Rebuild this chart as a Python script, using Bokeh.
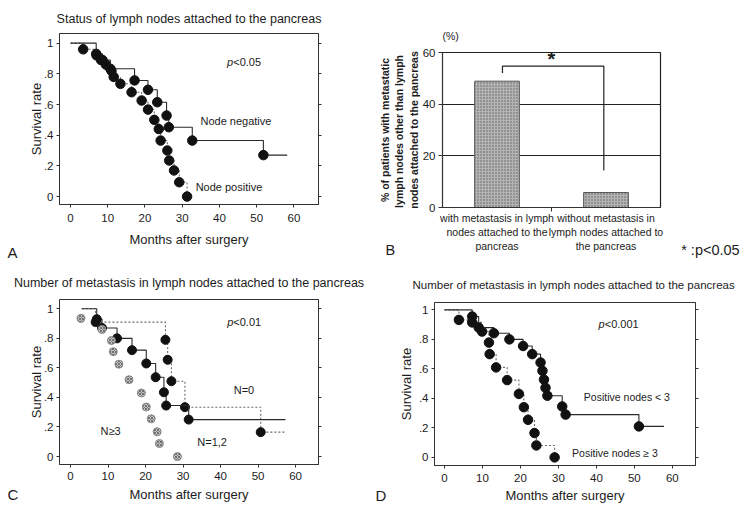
from bokeh.plotting import figure
from bokeh.layouts import row, column
from bokeh.models import (Label, Title, FixedTicker, Range1d, CustomJSTickFormatter,
                          LinearAxis)
from bokeh.embed import file_html
from bokeh.resources import INLINE

FONT = "Liberation Sans"
INK = "#1c1c1c"
LINE = "#2a2a2a"
DOT = "#6a6a6a"
NBSP = "\u00a0"

# ---------------- data ----------------
month_ticks = [0, 10, 20, 30, 40, 50, 60]
surv_ticks = [0, 0.2, 0.4, 0.6, 0.8, 1.0]

# Panel A: status of lymph nodes attached to the pancreas
a_neg_t = [6.9, 8.6, 10.7, 17.2, 20.8, 23.3, 25.8, 26.4, 32.7, 51.8]
a_neg_s = [0.93, 0.89, 0.833, 0.757, 0.696, 0.615, 0.528, 0.452, 0.365, 0.27]
a_neg_end = 58.2
a_pos_t = [3.4, 7.0, 8.2, 9.5, 11.0, 11.6, 13.4, 16.4, 19.1, 20.8, 22.5, 23.7,
           24.2, 26.0, 26.5, 27.8, 29.2, 31.3]
a_pos_s = [0.96, 0.92, 0.89, 0.86, 0.82, 0.78, 0.735, 0.68, 0.626, 0.567, 0.50,
           0.44, 0.365, 0.30, 0.235, 0.17, 0.093, 0.0]

# Panel B: % of patients with metastatic lymph nodes other than those attached
b_groups = ["with metastasis in lymph\nnodes attached to the\npancreas",
            "without metastasis in\nlymph nodes attached to\nthe pancreas"]
b_pct = [48.9, 5.8]
b_ticks = [0, 20, 40, 60]
b_grid = [20, 40]

# Panel C: number of metastases (N=0, N=1,2, N>=3)
c_start = 3.0
c_n0_t = [6.7, 25.3, 25.9, 26.9, 30.5, 50.7]
c_n0_s = [0.91, 0.79, 0.655, 0.51, 0.334, 0.165]
c_n0_end = 57.0
c_n12_t = [7.0, 8.4, 12.4, 16.4, 20.2, 22.7, 24.9, 25.5, 31.5]
c_n12_s = [0.93, 0.87, 0.80, 0.72, 0.63, 0.537, 0.435, 0.345, 0.25]
c_n12_end = 57.3
c_n3_t = [2.8, 8.4, 10.9, 11.4, 12.9, 15.6, 18.9, 20.2, 21.5, 23.1, 23.7, 28.5]
c_n3_s = [0.935, 0.86, 0.785, 0.71, 0.625, 0.52, 0.43, 0.335, 0.255, 0.168, 0.088, 0.0]

# Panel D: positive nodes < 3 vs >= 3
d_lt3_t = [7.3, 9.0, 13.0, 17.1, 20.7, 23.1, 25.3, 25.8, 26.2, 26.6, 27.1, 31.0, 31.9, 51.2]
d_lt3_s = [0.955, 0.88, 0.842, 0.80, 0.755, 0.70, 0.643, 0.587, 0.527, 0.472, 0.418,
           0.345, 0.29, 0.21]
d_lt3_end = 57.8
d_ge3_t = [3.8, 7.3, 9.9, 11.7, 11.9, 13.6, 16.5, 19.6, 20.9, 22.0, 23.7, 24.2, 29.0]
d_ge3_s = [0.932, 0.915, 0.853, 0.778, 0.70, 0.61, 0.524, 0.43, 0.34, 0.255, 0.165,
           0.081, 0.0]


# ---------------- helpers ----------------
def km_xy(t, s, start=0.0, end=None):
    xs = [start] + list(t)
    ys = [1.0] + list(s)
    if end is not None:
        xs.append(end)
        ys.append(s[-1])
    return xs, ys


def lab(p, x, y, text, size="11px", align="left", baseline="middle",
        style="normal", font=FONT, color=INK):
    p.add_layout(Label(x=x, y=y, text=text, text_font=font, text_font_size=size,
                       text_font_style=style, text_align=align,
                       text_baseline=baseline, text_color=color))


def side_text(p, text, side, align="left", offset=0, standoff=0, size="15px",
              font=FONT, valign="bottom", style="normal"):
    t = Title(text=text, align=align, offset=offset, vertical_align=valign,
              text_font=font, text_font_size=size, text_font_style=style,
              text_color=INK)
    try:
        t.standoff = standoff
    except Exception:
        t.standoff = 0
    p.add_layout(t, side)


def no_align(p):
    try:
        p.frame_align = False
    except Exception:
        pass


def set_label_standoff(ax, v):
    try:
        ax.axis_label_standoff = v
    except Exception:
        ax.axis_label_standoff = 0


def style_axis(ax, label_size="11.5px"):
    ax.axis_line_color = "#333333"
    ax.axis_line_width = 1
    ax.major_tick_line_color = "#333333"
    ax.major_tick_in = 0
    ax.major_tick_out = 3
    ax.minor_tick_line_color = None
    ax.major_label_text_font = FONT
    ax.major_label_text_font_size = label_size
    ax.major_label_text_color = INK
    ax.axis_label_text_font = FONT
    ax.axis_label_text_font_style = "normal"
    ax.axis_label_text_color = INK


def km_figure(width, height, borders, xr, yr, x_standoff, xlab_standoff, ylab_standoff):
    l, r, t, b = borders
    p = figure(width=width, height=height, x_range=Range1d(*xr), y_range=Range1d(*yr),
               output_backend="svg", toolbar_location=None,
               min_border_left=l, min_border_right=r, min_border_top=t,
               min_border_bottom=b)
    no_align(p)
    p.xgrid.visible = False
    p.ygrid.visible = False
    p.outline_line_color = "#333333"
    p.outline_line_alpha = 1
    p.outline_line_width = 1
    p.background_fill_color = "white"
    p.border_fill_color = "white"
    p.xaxis.ticker = FixedTicker(ticks=month_ticks)
    p.yaxis.ticker = FixedTicker(ticks=surv_ticks)
    p.yaxis.formatter = CustomJSTickFormatter(
        code="return tick <= 0 ? '0' : (tick >= 1 ? '1' : tick.toFixed(1).slice(1));")
    for ax in p.axis:
        style_axis(ax)
    p.xaxis.axis_label = "Months after surgery"
    p.yaxis.axis_label = "Survival rate"
    p.xaxis.axis_label_text_font_size = "13px"
    p.yaxis.axis_label_text_font_size = "13px"
    p.xaxis.major_label_standoff = x_standoff
    p.xaxis.axis_label_standoff = xlab_standoff
    p.yaxis.major_label_standoff = 3
    for ax in p.yaxis:
        set_label_standoff(ax, ylab_standoff)
    # small tick marks on the right edge of the box
    rax = LinearAxis(ticker=FixedTicker(ticks=surv_ticks),
                     formatter=CustomJSTickFormatter(code="return '';"))
    style_axis(rax)
    rax.major_label_standoff = 0
    p.add_layout(rax, "right")
    return p


def solid_curve(p, t, s, start=0.0, end=None, size=9.5):
    xs, ys = km_xy(t, s, start, end)
    p.step(xs, ys, mode="after", line_color=LINE, line_width=1.1)
    p.scatter(t, s, size=size, fill_color="#111111", line_color="#111111")


def dotted_curve(p, t, s, start=0.0, end=None, size=9.5):
    xs, ys = km_xy(t, s, start, end)
    p.step(xs, ys, mode="after", line_color=DOT, line_width=1.1, line_dash="2 2")
    p.scatter(t, s, size=size, fill_color="#111111", line_color="#111111")


# ---------------- Panel A ----------------
pA = km_figure(371, 263, (59, 53, 33, 59), (-2.96, 66.6), (-0.052, 1.063), 6, 7, -3)
side_text(pA, "Status of lymph nodes attached to the pancreas", "above",
          align="center", standoff=16, size="12.5px")
dotted_curve(pA, a_pos_t, a_pos_s)
solid_curve(pA, a_neg_t, a_neg_s, end=a_neg_end)
lab(pA, 43.7, 0.876, "p", align="right", style="italic")
lab(pA, 43.7, 0.876, "<0.05")
lab(pA, 34.9, 0.49, "Node negative")
lab(pA, 33.6, 0.061, "Node positive")
side_text(pA, "A", "below", offset=-52, standoff=-13, valign="middle")

# ---------------- Panel B ----------------
pB = figure(width=372, height=263, x_range=Range1d(0, 2), y_range=Range1d(0, 60),
            output_backend="svg", toolbar_location=None,
            min_border_left=71, min_border_right=83, min_border_top=52,
            min_border_bottom=56)
no_align(pB)
pB.background_fill_color = "white"
pB.border_fill_color = "white"
pB.outline_line_color = "#222222"
pB.outline_line_alpha = 1
pB.outline_line_width = 1.2
pB.xgrid.visible = False
pB.ygrid.ticker = FixedTicker(ticks=b_grid)
pB.ygrid.grid_line_color = "#222222"
pB.ygrid.grid_line_width = 1.1
pB.vbar(x=[0.5, 1.5], top=b_pct, width=0.41, fill_color="#b4b4b4",
        line_color="#555555", line_width=1, hatch_pattern="dot",
        hatch_color="#4a4a4a", hatch_scale=3, hatch_weight=1, hatch_alpha=0.8)
pB.line([0.55, 0.55, 1.48, 1.48], [52.1, 54.7, 54.7, 14.3], line_color="#222222",
        line_width=1.2)
lab(pB, 1.0, 57.6, "*", size="20px", align="center", style="bold")
pB.xaxis.ticker = FixedTicker(ticks=[0.5, 1.5], minor_ticks=[1.0])
pB.xaxis.formatter = CustomJSTickFormatter(args=dict(labels=b_groups),
                                           code="return labels[Math.floor(tick)];")
pB.yaxis.ticker = FixedTicker(ticks=b_ticks)
for ax in pB.axis:
    style_axis(ax)
pB.xaxis.major_tick_out = 0
pB.xaxis.minor_tick_line_color = "#333333"
pB.xaxis.minor_tick_out = 4
pB.xaxis.minor_tick_in = 0
pB.xaxis.major_label_text_font_size = "10.5px"
pB.xaxis.major_label_standoff = 0
pB.yaxis.major_tick_out = 4
pB.yaxis.major_label_standoff = 3
pB.yaxis.axis_label = ("% of patients with metastatic\n"
                       "lymph nodes other than  lymph\n"
                       "nodes attached to the pancreas")
pB.yaxis.axis_label_text_font_size = "10.5px"
pB.yaxis.axis_label_text_font_style = "bold"
pB.yaxis.axis_label_standoff = 0
side_text(pB, "(%)", "above", offset=0, standoff=22, size="10.5px")
# panel letter and significance note share one line below the axis
side_text(pB, "B" + NBSP * 71 + "* :p<0.05\n", "below", offset=-57, standoff=-30,
          size="14.5px", valign="middle")

# ---------------- Panel C ----------------
pC = km_figure(371, 244, (59, 53, 36, 43), (-2.93, 66.1), (-0.054, 1.063), 4, 4, -3)
side_text(pC, "Number of metastasis in lymph nodes attached to the pancreas", "above",
          align="center", standoff=19, size="12.5px")
dotted_curve(pC, c_n0_t, c_n0_s, start=c_start, end=c_n0_end, size=9)
solid_curve(pC, c_n12_t, c_n12_s, start=c_start, end=c_n12_end, size=9)
pC.scatter(c_n3_t, c_n3_s, size=8, fill_color="#c4c4c4", line_color="#8a8a8a",
           hatch_pattern="x", hatch_color="#5a5a5a", hatch_scale=3, hatch_weight=0.8)
lab(pC, 43.4, 0.909, "p", align="right", style="italic")
lab(pC, 43.4, 0.909, "<0.01")
lab(pC, 43.5, 0.447, "N=0")
lab(pC, 8.0, 0.176, "N≥3")
lab(pC, 33.8, 0.097, "N=1,2")
side_text(pC, "C\n", "below", offset=-52, standoff=-37, valign="top")

# ---------------- Panel D ----------------
pD = km_figure(372, 244, (63, 48, 39, 42), (-2.63, 66.1), (-0.055, 1.05), 5, 3, 2)
side_text(pD, "Number of metastasis in lymph nodes attached to the pancreas", "above",
          align="left", offset=-22, standoff=24, size="11.5px")
dotted_curve(pD, d_ge3_t, d_ge3_s)
solid_curve(pD, d_lt3_t, d_lt3_s, end=d_lt3_end)
lab(pD, 42.2, 0.905, "p", align="right", style="italic")
lab(pD, 42.2, 0.905, "<0.001")
lab(pD, 36.7, 0.407, "Positive nodes < 3", size="10.5px")
lab(pD, 33.6, 0.027, "Positive nodes ≥ 3", size="10.5px")
side_text(pD, "D\n", "below", offset=-59, standoff=-37, valign="top")

layout = column(row(pA, pB), row(pC, pD))
open("out.html", "w").write(file_html(layout, INLINE))
